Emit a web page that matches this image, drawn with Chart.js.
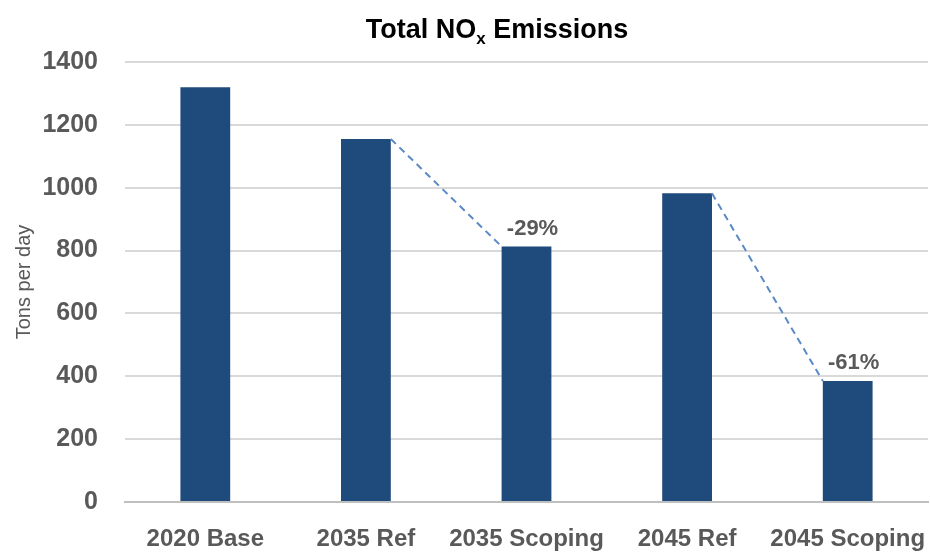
<!DOCTYPE html>
<html>
<head>
<meta charset="utf-8">
<title>Total NOx Emissions</title>
<script src="https://cdn.jsdelivr.net/npm/chart.js@4"></script>
<style>
  html, body { margin: 0; padding: 0; background: #fff; }
  #wrap { width: 930px; height: 552px; }
</style>
</head>
<body>
<div id="wrap"><canvas id="chart" width="930" height="552"></canvas></div>
<script>
// values
const categories = ["2020 Base", "2035 Ref", "2035 Scoping", "2045 Ref", "2045 Scoping"];
const tonsPerDay = [1320, 1155, 813, 982, 385];
const changeLabels = [null, null, "-29%", null, "-61%"];
// dashed connectors: from bar a (top right) to bar b (top left)
const connectors = [[1, 2], [3, 4]];

const FONT = "'Liberation Sans', Arial, sans-serif";
const GREY = "#595959";
const BAR = "#1F4A7C";
const DASH = "#5A8AC6";

// title with a subscript x, drawn by hand since Chart.js titles can't do that
const titlePlugin = {
  id: "noxTitle",
  afterDraw(chart) {
    const ctx = chart.ctx;
    const big = "bold 27px " + FONT;
    const small = "bold 17px " + FONT;
    ctx.save();
    ctx.fillStyle = "#000";
    ctx.textBaseline = "alphabetic";
    ctx.font = big;
    const a = "Total NO", b = " Emissions";
    const wa = ctx.measureText(a).width, wb = ctx.measureText(b).width;
    ctx.font = small;
    const wx = ctx.measureText("x").width;
    let x = 497 - (wa + wx + wb) / 2;
    const y = 38;
    ctx.font = big;
    ctx.fillText(a, x, y);
    x += wa;
    ctx.font = small;
    ctx.fillText("x", x, y + 6);
    x += wx;
    ctx.font = big;
    ctx.fillText(b, x, y);
    ctx.restore();
  },
};

// dashed drop lines and the % change labels, positioned off the bar elements
const changePlugin = {
  id: "changeMarks",
  afterDatasetsDraw(chart) {
    const ctx = chart.ctx;
    const bars = chart.getDatasetMeta(0).data;
    ctx.save();
    ctx.strokeStyle = DASH;
    ctx.lineWidth = 2;
    ctx.setLineDash([7, 5]);
    connectors.forEach(([i, j]) => {
      const p = bars[i], q = bars[j];
      ctx.beginPath();
      ctx.moveTo(p.x + p.width / 2, p.y);
      ctx.lineTo(q.x - q.width / 2, q.y);
      ctx.stroke();
    });
    ctx.setLineDash([]);
    ctx.fillStyle = GREY;
    ctx.font = "bold 22px " + FONT;
    ctx.textAlign = "center";
    ctx.textBaseline = "bottom";
    changeLabels.forEach((txt, i) => {
      if (!txt) return;
      const el = bars[i];
      ctx.fillText(txt, el.x + 6, el.y - 7);
    });
    ctx.restore();
  },
};

new Chart(document.getElementById("chart"), {
  type: "bar",
  data: {
    labels: categories,
    datasets: [
      {
        data: tonsPerDay,
        backgroundColor: BAR,
        borderWidth: 0,
        categoryPercentage: 1,
        barPercentage: 0.31,
      },
    ],
  },
  options: {
    responsive: false,
    animation: false,
    devicePixelRatio: 1,
    layout: { padding: { top: 62, right: 2, left: 0, bottom: 0 } },
    plugins: {
      legend: { display: false },
      tooltip: { enabled: false },
    },
    scales: {
      x: {
        grid: { display: false },
        border: { display: true, color: "#BFBFBF", width: 2 },
        ticks: {
          color: GREY,
          font: { family: FONT, size: 24, weight: "bold" },
          padding: 15,
          maxRotation: 0,
          minRotation: 0,
          autoSkip: false,
        },
        // let the last label run to the canvas edge instead of shrinking the plot
        afterFit: (s) => {
          s.height = 50;
          s.paddingLeft = 0;
          s.paddingRight = 0;
        },
      },
      y: {
        min: 0,
        max: 1400,
        ticks: {
          stepSize: 200,
          color: GREY,
          padding: 27,
          font: { family: FONT, size: 25, weight: "bold" },
          callback: (v) => String(v),
        },
        grid: { color: "#D9D9D9", lineWidth: 2, drawTicks: false },
        border: { display: false },
        title: {
          display: true,
          text: "Tons per day",
          color: GREY,
          font: { family: FONT, size: 20 },
          padding: { top: 12, bottom: 0 },
        },
        afterFit: (s) => { s.width = 125; },
      },
    },
  },
  plugins: [titlePlugin, changePlugin],
});
</script>
</body>
</html>
